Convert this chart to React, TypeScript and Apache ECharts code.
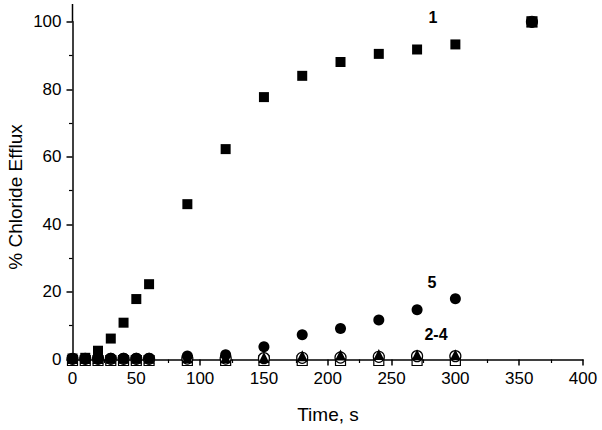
import React, { useEffect, useRef } from "react";
import * as echarts from "echarts";

const times = [0, 10, 20, 30, 40, 50, 60, 90, 120, 150, 180, 210, 240, 270, 300, 360];
const series1 = [0.3, 0.5, 2.6, 6.2, 10.9, 17.9, 22.3, 46, 62.3, 77.7, 84, 88.1, 90.5, 91.8, 93.3, 100];
const series5 = [0.3, 0.3, 0.3, 0.4, 0.4, 0.4, 0.4, 1.0, 1.4, 3.8, 7.3, 9.2, 11.7, 14.7, 18, 100];
const seriesTri = [0.3, 0.3, 0.3, 0.4, 0.4, 0.4, 0.4, 0.5, 0.5, 0.6, 1.1, 1.3, 1.5, 1.4, 1.4, 100];
const seriesOpenCircle = [0.2, 0.2, 0.2, 0.2, 0.2, 0.2, 0.2, 0.3, 0.3, 0.4, 0.5, 0.6, 0.8, 1.0, 1.0, 100];
const seriesOpenSquare = [-0.3, -0.3, -0.3, -0.3, -0.3, -0.3, -0.3, -0.3, -0.3, -0.3, -0.3, -0.3, -0.3, -0.3, -0.3, 100];
const yTicks = [0, 20, 40, 60, 80, 100];
const xTicks = [0, 50, 100, 150, 200, 250, 300, 350, 400];

const pairs = (ys: number[]) => times.map((t, i) => [t, ys[i]]);

export default function App() {
  const ref = useRef<HTMLDivElement>(null);
  useEffect(() => {
    if (!ref.current) return;
    const chart = echarts.init(ref.current, null, { renderer: "svg" });
    const font = "Liberation Sans, Arial, sans-serif";
    const gridLeft = 72.5;
    const gridTop = 21.8;
    const gridBottom = 70.5;
    const filled = { color: "#000", opacity: 1 };
    const open = { color: "#fff", borderColor: "#000", borderWidth: 1.2, opacity: 1 };
    chart.setOption({
      animation: false,
      backgroundColor: "#ffffff",
      grid: { left: gridLeft, right: 19, top: gridTop, bottom: gridBottom, containLabel: false },
      xAxis: {
        type: "value",
        min: xTicks[0],
        max: xTicks[xTicks.length - 1],
        interval: 50,
        offset: 2,
        splitLine: { show: false },
        axisLine: { show: true, lineStyle: { color: "#000", width: 1.5 } },
        axisTick: { show: true, inside: false, length: 6, lineStyle: { color: "#000", width: 1.5 } },
        minorTick: { show: true, splitNumber: 2, length: 3.5, lineStyle: { color: "#000", width: 1.2 } },
        axisLabel: { color: "#000", fontSize: 17, fontFamily: font, margin: 8 },
      },
      yAxis: {
        type: "value",
        min: yTicks[0],
        max: yTicks[yTicks.length - 1],
        interval: 20,
        splitLine: { show: false },
        axisLine: { show: true, lineStyle: { color: "#000", width: 1.5 } },
        axisTick: { show: true, inside: false, length: 6, lineStyle: { color: "#000", width: 1.5 } },
        minorTick: { show: true, splitNumber: 2, length: 3.5, lineStyle: { color: "#000", width: 1.2 } },
        axisLabel: { color: "#000", fontSize: 17, fontFamily: font, margin: 11 },
      },
      series: [
        { type: "scatter", data: pairs(seriesOpenSquare), symbol: "rect", symbolSize: 10, clip: false, itemStyle: open, z: 2 },
        { type: "scatter", data: pairs(seriesOpenCircle), symbol: "circle", symbolSize: 11, clip: false, itemStyle: open, z: 3 },
        { type: "scatter", data: pairs(series5), symbol: "circle", symbolSize: 11, clip: false, itemStyle: filled, z: 4 },
        { type: "scatter", data: pairs(seriesTri), symbol: "triangle", symbolSize: 11, clip: false, itemStyle: filled, z: 5 },
        { type: "scatter", data: pairs(series1), symbol: "rect", symbolSize: 10, clip: false, itemStyle: filled, z: 6 },
      ],
      graphic: [
        {
          type: "line",
          shape: { x1: gridLeft, y1: 4, x2: gridLeft, y2: gridTop },
          style: { stroke: "#000", lineWidth: 1.5 },
        },
        {
          type: "line",
          shape: { x1: gridLeft, y1: 430 - gridBottom, x2: gridLeft, y2: 430 - gridBottom + 2.5 },
          style: { stroke: "#000", lineWidth: 1.5 },
        },
        {
          type: "text",
          x: 15,
          y: 197,
          rotation: Math.PI / 2,
          style: {
            text: "% Chloride Efflux",
            fontSize: 19,
            fontFamily: font,
            fill: "#000",
            align: "center",
            verticalAlign: "middle",
          },
        },
        {
          type: "text",
          x: 328,
          y: 414,
          style: {
            text: "Time, s",
            fontSize: 19,
            fontFamily: font,
            fill: "#000",
            align: "center",
            verticalAlign: "middle",
          },
        },
        {
          type: "text",
          x: 433,
          y: 17,
          style: { text: "1", fontSize: 16, fontWeight: "bold", fontFamily: font, fill: "#000", align: "center", verticalAlign: "middle" },
        },
        {
          type: "text",
          x: 432,
          y: 282,
          style: { text: "5", fontSize: 16, fontWeight: "bold", fontFamily: font, fill: "#000", align: "center", verticalAlign: "middle" },
        },
        {
          type: "text",
          x: 436,
          y: 334,
          style: { text: "2-4", fontSize: 16, fontWeight: "bold", fontFamily: font, fill: "#000", align: "center", verticalAlign: "middle" },
        },
      ],
    });
    return () => chart.dispose();
  }, []);
  return <div ref={ref} style={{ width: 602, height: 430, position: "absolute", left: 0, top: 0 }} />;
}
